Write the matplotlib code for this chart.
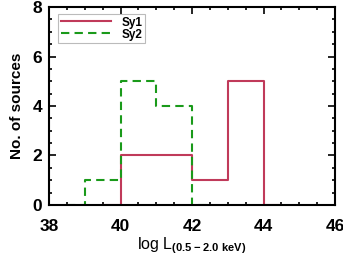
import matplotlib
matplotlib.use("Agg")
import matplotlib.pyplot as plt
from matplotlib.ticker import MultipleLocator

# Histogram bin centres and counts (IDL psym=10 style)
sy1_centers = [39.5, 40.5, 41.5, 42.5, 43.5, 44.5]
sy1_counts = [0, 2, 2, 1, 5, 0]
sy2_centers = [38.5, 39.5, 40.5, 41.5, 42.5]
sy2_counts = [0, 1, 5, 4, 0]
labels = ["Sy1", "Sy2"]

plt.rcParams['font.family'] = ['Liberation Sans', 'DejaVu Sans']
plt.rcParams['mathtext.fontset'] = 'custom'
plt.rcParams['mathtext.rm'] = 'Liberation Sans'
plt.rcParams['mathtext.bf'] = 'Liberation Sans:bold'

fig = plt.figure(figsize=(3.43, 2.62), dpi=100)
ax = fig.add_axes([0.143, 0.218, 0.834, 0.755])

ax.plot(sy1_centers, sy1_counts, drawstyle='steps-mid', color='#c03a5a', lw=1.5, label=labels[0])
ax.plot(sy2_centers, sy2_counts, drawstyle='steps-mid', color='#1a9a1a', lw=1.5,
        ls=(0, (4, 2.5)), label=labels[1])

ax.set_xlim(38, 46)
ax.set_ylim(0, 8)
ax.xaxis.set_major_locator(MultipleLocator(2))
ax.xaxis.set_minor_locator(MultipleLocator(0.5))
ax.yaxis.set_major_locator(MultipleLocator(2))
ax.yaxis.set_minor_locator(MultipleLocator(0.5))
ax.tick_params(which='both', direction='in', top=True, right=True, width=1.2)
ax.tick_params(which='major', length=5, labelsize=12.5)
ax.tick_params(axis='x', which='major', pad=10)
ax.tick_params(axis='y', which='major', pad=5)
ax.tick_params(which='minor', length=2.5)
for lab in ax.get_xticklabels() + ax.get_yticklabels():
    lab.set_fontweight('bold')
for s in ax.spines.values():
    s.set_linewidth(1.5)

ax.set_ylabel("No. of sources", fontsize=11, fontweight='bold', labelpad=6)
ax.set_xlabel(r"log L$_{\mathbf{(0.5-2.0\ keV)}}$", fontsize=11.5, labelpad=1)

leg = ax.legend(loc='upper left', fontsize=8.5, frameon=True, fancybox=False,
                edgecolor='#aaaaaa', borderpad=0.25, labelspacing=0.0, handlelength=4.2,
                handletextpad=0.9, bbox_to_anchor=(0.02, 0.985), borderaxespad=0.3)
leg.get_frame().set_linewidth(0.8)
for t in leg.get_texts():
    t.set_fontweight('bold')

fig.savefig("out.png", dpi=100)
